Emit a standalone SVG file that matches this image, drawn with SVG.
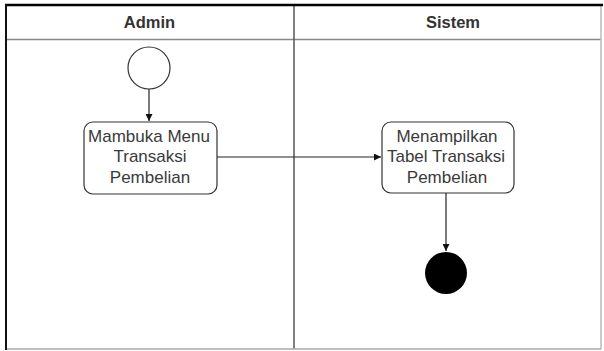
<svg xmlns="http://www.w3.org/2000/svg" width="604" height="351" viewBox="0 0 604 351">
<style>
.lbl{font-family:"Liberation Sans",Arial,sans-serif;font-size:17px;fill:#3a3a3a;text-anchor:middle}
.hdr{font-family:"Liberation Sans",Arial,sans-serif;font-size:16.5px;font-weight:bold;fill:#333;text-anchor:middle}
.box{fill:#fff;stroke:#333;stroke-width:1.2}
.edge{stroke:#222;stroke-width:1.2;fill:none}
</style>
<defs>
<marker id="arr" viewBox="0 0 10 10" refX="10" refY="5" markerWidth="7" markerHeight="7" orient="auto" markerUnits="userSpaceOnUse">
<path d="M0,0 L10,5 L0,10 z" fill="#111"/>
</marker>
</defs>
<rect width="604" height="351" fill="#fff"/>
<g id="pool">
<line x1="6" y1="39.5" x2="601" y2="39.5" stroke="#888" stroke-width="1.5"/>
<line x1="294" y1="5" x2="294" y2="349" stroke="#555" stroke-width="1.5"/>
<line x1="601" y1="5" x2="601" y2="349" stroke="#bbb" stroke-width="1.5"/>
<line x1="6" y1="349" x2="601" y2="349" stroke="#aaa" stroke-width="1.5"/>
<line x1="5" y1="5" x2="603" y2="5" stroke="#000" stroke-width="2.5"/>
<line x1="6" y1="4" x2="6" y2="350" stroke="#111" stroke-width="2"/>
<text class="hdr" x="149.5" y="28">Admin</text>
<text class="hdr" x="453" y="28">Sistem</text>
</g>
<g id="start">
<circle cx="149" cy="68" r="21" fill="#fff" stroke="#333" stroke-width="1.2"/>
</g>
<g id="act1">
<rect class="box" x="84" y="122" width="133" height="72" rx="9"/>
<text class="lbl" x="149" y="142">Mambuka Menu</text>
<text class="lbl" x="150" y="162">Transaksi</text>
<text class="lbl" x="150" y="183">Pembelian</text>
</g>
<g id="act2">
<rect class="box" x="382" y="122" width="132" height="71" rx="9"/>
<text class="lbl" x="447" y="142">Menampilkan</text>
<text class="lbl" x="446" y="162">Tabel Transaksi</text>
<text class="lbl" x="447" y="183">Pembelian</text>
</g>
<g id="end">
<circle cx="446" cy="273" r="21" fill="#000"/>
</g>
<g id="connectors">
<line class="edge" x1="149" y1="89" x2="149" y2="121" marker-end="url(#arr)"/>
<line class="edge" x1="217" y1="157" x2="381" y2="157" marker-end="url(#arr)"/>
<line class="edge" x1="446" y1="193" x2="446" y2="251" marker-end="url(#arr)"/>
</g>
</svg>
